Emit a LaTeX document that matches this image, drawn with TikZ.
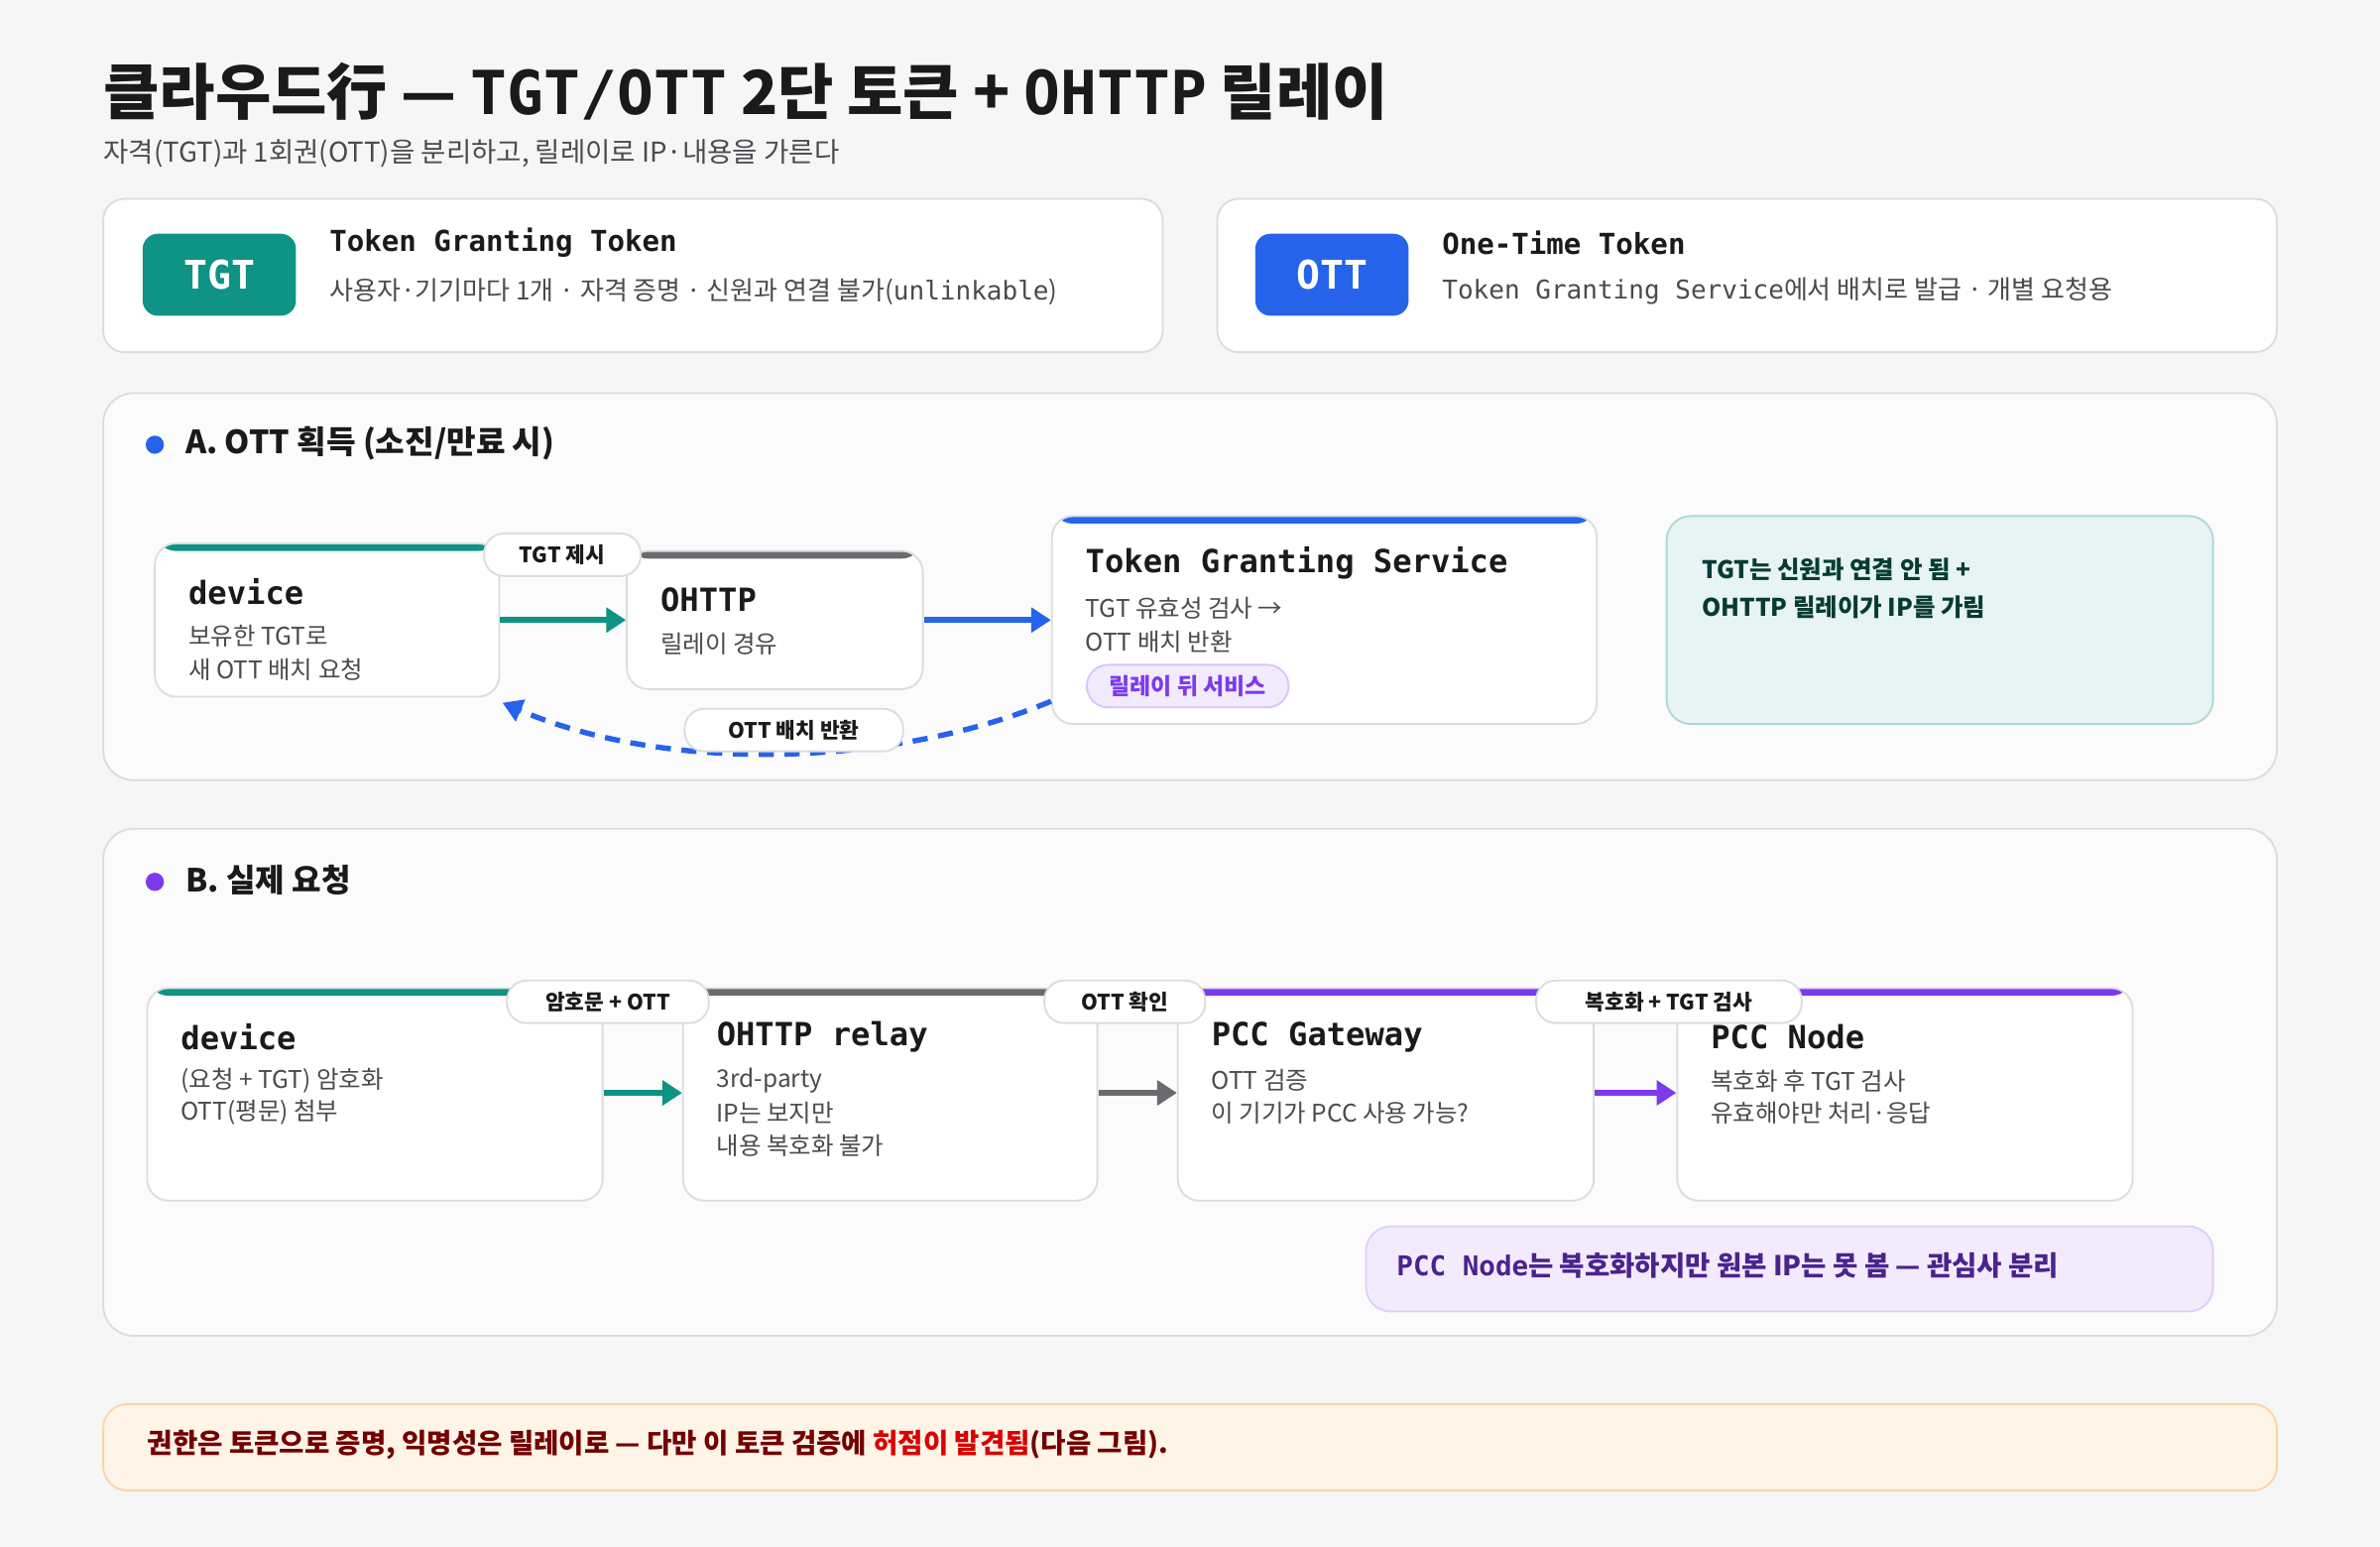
\documentclass[tikz,border=0pt]{standalone}
\usepackage{fontspec}
\setmainfont{Noto Sans CJK KR}
\newfontfamily\mono{DejaVu Sans Mono}
\usetikzlibrary{arrows.meta}
\definecolor{bg}{HTML}{F6F6F7}
\definecolor{teal}{HTML}{0E9384}
\definecolor{blu}{HTML}{2563EB}
\definecolor{gry}{HTML}{6B6B6F}
\definecolor{pur}{HTML}{7C3AED}
\definecolor{bord}{HTML}{DCDCE0}
\definecolor{txt}{HTML}{1A1A1A}
\definecolor{sub}{HTML}{4A4A4F}
\tikzset{
  card/.style={draw=bord,line width=1.2pt,fill=white,rounded corners=14pt,inner sep=0,
    minimum width=#1},
  bar/.style={path picture={\fill[#1] (path picture bounding box.north west) rectangle ([yshift=-5pt]path picture bounding box.north east);}},
  panel/.style={draw=bord,line width=1.2pt,fill=white!55!bg,rounded corners=20pt},
  ttl/.style={anchor=west,inner sep=0,font=\mono\bfseries\fontsize{21}{24}\selectfont,text=txt},
  ln/.style={anchor=west,inner sep=0,font=\fontsize{16}{20}\selectfont,text=sub},
  pill/.style={draw=bord,line width=1.2pt,fill=white,rounded corners=13pt,inner sep=0,minimum height=28pt,font=\bfseries\fontsize{14}{16}\selectfont,text=txt},
  arr/.style={line width=4pt,-{Triangle[length=13pt,width=16pt]},#1},
  badge/.style={fill=#1,rounded corners=10pt,minimum width=101pt,minimum height=54pt,inner sep=0,text=white,font=\mono\bfseries\fontsize{26}{28}\selectfont},
}
\begin{document}
\begin{tikzpicture}[x=1pt,y=-1pt]
\useasboundingbox (0,0) rectangle (1568,1019);
\fill[bg] (0,0) rectangle (1568,1019);
% title
\node[anchor=west,inner sep=0,font=\bfseries\fontsize{40}{44}\selectfont,text=txt] (title) at (68,60) {클라우드行 — {\mono TGT/OTT} 2단 토큰 + {\mono OHTTP} 릴레이};
\node[anchor=west,inner sep=0,font=\fontsize{18}{20}\selectfont,text=sub] (subt) at (68,101) {자격(TGT)과 1회권(OTT)을 분리하고, 릴레이로 IP·내용을 가른다};
% top cards
\node[card=698pt,minimum height=101pt] (c1) at (417,181.5) {};
\node[badge=teal] (b1) at (144.5,181) {TGT};
\node[ttl,font=\mono\bfseries\fontsize{19}{22}\selectfont] (c1t) at (217,160) {Token Granting Token};
\node[ln,font=\fontsize{17}{20}\selectfont] (c1s) at (217,192) {사용자·기기마다 1개 · 자격 증명 · 신원과 연결 불가({\mono unlinkable})};
\node[card=698pt,minimum height=101pt] (c2) at (1151,181.5) {};
\node[badge=blu] (b2) at (877.5,181) {OTT};
\node[ttl,font=\mono\bfseries\fontsize{19}{22}\selectfont] (c2t) at (950,160) {One-Time Token};
\node[ln,font=\fontsize{17}{20}\selectfont] (c2s) at (950,192) {{\mono Token Granting Service}에서 배치로 발급 · 개별 요청용};
% panel A
\draw[panel] (68,259) rectangle (1500,514);
\fill[blu] (102,293) circle (6);
\node[anchor=west,inner sep=0,font=\bfseries\fontsize{21}{24}\selectfont,text=txt] (ha) at (122,292) {A. OTT 획득 (소진/만료 시)};
\node[card=227pt,minimum height=101pt,bar=teal] (devA) at (215.5,408.5) {};
\node[ttl] (devAt) at (124,390) {device};
\node[ln] (devA1) at (124,419) {보유한 TGT로};
\node[ln] (devA2) at (124,441) {새 OTT 배치 요청};
\node[card=195pt,minimum height=91pt,bar=gry] (ohA) at (510.5,408.5) {};
\node[ttl] (ohAt) at (435,395) {OHTTP};
\node[ln] (ohA1) at (435,424) {릴레이 경유};
\node[card=359pt,minimum height=137pt,bar=blu] (tgs) at (872.5,408.5) {};
\node[ttl,font=\mono\bfseries\fontsize{21}{24}\selectfont] (tgst) at (715,371) {Token Granting Service};
\node[ln] (tgs1) at (715,401) {TGT 유효성 검사 →};
\node[ln] (tgs2) at (715,423) {OTT 배치 반환};
\node[draw=pur!30,fill=pur!10,rounded corners=14pt,line width=1.2pt,minimum width=133pt,minimum height=28pt,inner sep=0,font=\bfseries\fontsize{15}{17}\selectfont,text=pur] (tag) at (782.5,452) {릴레이 뒤 서비스};
\node[draw=teal!35,fill=teal!10,rounded corners=16pt,line width=1.2pt,minimum width=360pt,minimum height=137pt,inner sep=0] (noteA) at (1278,408.5) {};
\node[anchor=west,inner sep=0,font=\bfseries\fontsize{16}{20}\selectfont,text=teal!40!black] (nA1) at (1121,375) {TGT는 신원과 연결 안 됨 +};
\node[anchor=west,inner sep=0,font=\bfseries\fontsize{16}{20}\selectfont,text=teal!40!black] (nA2) at (1121,400) {OHTTP 릴레이가 IP를 가림};
\draw[arr=teal] (devA.east) -- (ohA.west);
\draw[arr=blu] (ohA.east) -- (tgs.west);
\coordinate (r1) at (tgs.west |- 0,462);
\coordinate (r2) at (331,463);
\draw[blu,line width=3.5pt,dash pattern=on 10pt off 7pt,-{Triangle[length=13pt,width=15pt]}] (r1) .. controls (590,505) and (440,510) .. (r2);
\node[pill,minimum width=103pt] (lA1) at (370.5,365.5) {TGT 제시};
\node[pill,minimum width=144pt] (lA2) at (523,481) {OTT 배치 반환};
% panel B
\draw[panel] (68,546) rectangle (1500,880);
\fill[pur] (102,581) circle (6);
\node[anchor=west,inner sep=0,font=\bfseries\fontsize{21}{24}\selectfont,text=txt] (hb) at (122,580) {B. 실제 요청};
\node[card=300pt,minimum height=140pt,bar=teal] (devB) at (247,721) {};
\node[ttl] (devBt) at (119,683) {device};
\node[ln] (devB1) at (119,712) {(요청 + TGT) 암호화};
\node[ln] (devB2) at (119,733) {OTT(평문) 첨부};
\node[card=273pt,minimum height=140pt,bar=gry] (rel) at (586.5,721) {};
\node[ttl] (relt) at (472,683) {OHTTP relay};
\node[ln] (rel1) at (472,712) {3rd-party};
\node[ln] (rel2) at (472,733) {IP는 보지만};
\node[ln] (rel3) at (472,755) {내용 복호화 불가};
\node[card=274pt,minimum height=140pt,bar=pur] (gw) at (913,721) {};
\node[ttl] (gwt) at (798,683) {PCC Gateway};
\node[ln] (gw1) at (798,712) {OTT 검증};
\node[ln] (gw2) at (798,733) {이 기기가 PCC 사용 가능?};
\node[card=300pt,minimum height=140pt,bar=pur] (pn) at (1255,721) {};
\node[ttl] (pnt) at (1127,683) {PCC Node};
\node[ln] (pn1) at (1127,712) {복호화 후 TGT 검사};
\node[ln] (pn2) at (1127,733) {유효해야만 처리·응답};
\draw[arr=teal] (devB.east |- 0,720) -- (rel.west |- 0,720);
\draw[arr=gry] (rel.east |- 0,720) -- (gw.west |- 0,720);
\draw[arr=pur] (gw.east |- 0,720) -- (pn.west |- 0,720);
\node[pill,minimum width=133pt] (lB1) at (400.5,660) {암호문 + OTT};
\node[pill,minimum width=106pt] (lB2) at (741,660) {OTT 확인};
\node[pill,minimum width=175pt] (lB3) at (1099.5,660) {복호화 + TGT 검사};
\node[draw=pur!25,fill=pur!10,rounded corners=16pt,line width=1.2pt,minimum width=558pt,minimum height=56pt,inner sep=0] (noteB) at (1179,836) {};
\node[anchor=west,inner sep=0,font=\bfseries\fontsize{18}{20}\selectfont,text=pur!60!black] (nB) at (920,834) {{\mono PCC Node}는 복호화하지만 원본 IP는 못 봄 — 관심사 분리};
% bottom
\node[draw=orange!35,fill=orange!9,rounded corners=16pt,line width=1.2pt,minimum width=1432pt,minimum height=57pt,inner sep=0] (bot) at (784,953.5) {};
\node[anchor=west,inner sep=0,font=\bfseries\fontsize{18}{20}\selectfont,text=red!45!black] (botT) at (97,952) {권한은 토큰으로 증명, 익명성은 릴레이로 — 다만 이 토큰 검증에 \textcolor{red!85!black}{허점이 발견됨}(다음 그림).};
\end{tikzpicture}
\end{document}
